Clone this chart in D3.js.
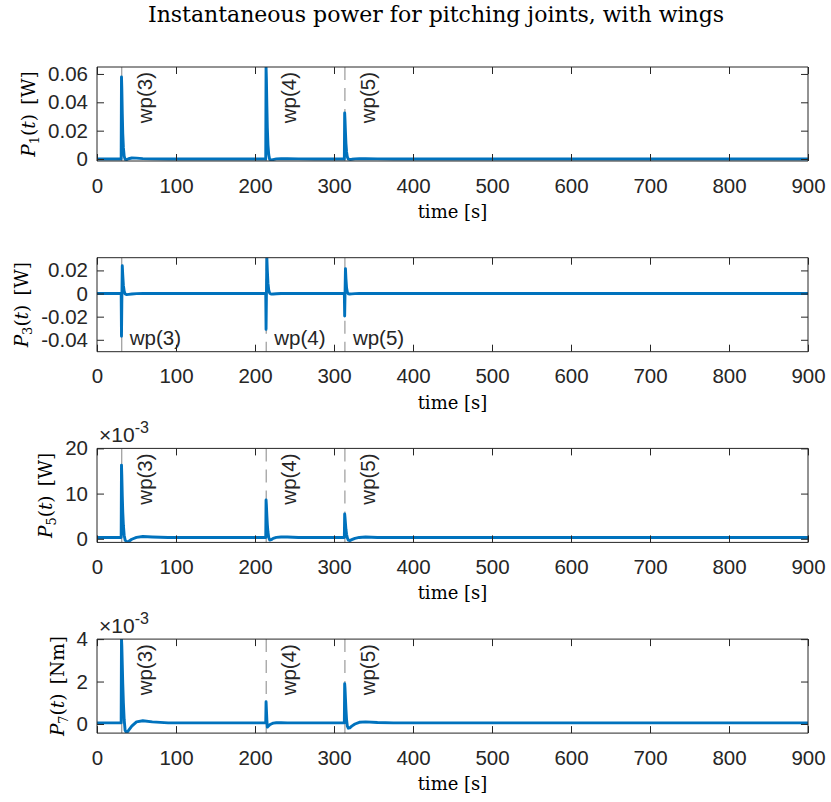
<!DOCTYPE html>
<html>
<head>
<meta charset="utf-8">
<script src="https://cdn.jsdelivr.net/npm/d3@7"></script>
<style>
  body { margin: 0; background: #fff; }
  svg { display: block; }
</style>
</head>
<body>
<svg id="fig" width="831" height="802"></svg>
<script>
// Sample times [s] shared by all four power traces
const timeS = [0, 30.6, 31.0, 31.4, 32.0, 32.6, 33.4, 34.4, 35.6, 37.5, 40, 44, 50, 58, 70, 90, 120,
  213.6, 214.0, 214.4, 215.0, 215.6, 216.4, 217.4, 218.6, 220.5, 223, 227, 233, 241, 255, 275,
  313.1, 313.5, 313.9, 314.5, 315.1, 315.9, 316.9, 318.1, 320, 322.5, 326.5, 332, 340, 355, 375, 900];

// Instantaneous power of joint 1 [W]
const powerP1 = [0, 0, 0.0578, 0.050, 0.032, 0.018, 0.008, 0.002, -0.0002, -0.0004, 0.0002, 0.0007, 0.0006, 0.0003, 0.0001, 0, 0,
  0, 0.0648, 0.057, 0.038, 0.022, 0.010, 0.003, -0.0003, -0.0007, -0.0004, 0.0001, 0.0003, 0.0002, 0.0001, 0,
  0, 0.0325, 0.028, 0.019, 0.011, 0.005, 0.0015, -0.0001, -0.0003, -0.0002, 0.0001, 0.0003, 0.0002, 0.0001, 0, 0];

// Instantaneous power of joint 3 [W]
const powerP3 = [0, 0, -0.037, -0.010, 0.024, 0.016, 0.007, 0.002, -0.0004, -0.0009, -0.0007, -0.0004, -0.0001, 0, 0, 0, 0,
  0, -0.031, -0.005, 0.031, 0.020, 0.009, 0.003, 0.0003, -0.0005, -0.0004, -0.0002, 0, 0, 0, 0,
  0, -0.0195, -0.003, 0.0215, 0.013, 0.005, 0.0012, -0.0002, -0.0004, -0.0003, -0.0001, 0, 0, 0, 0, 0];

// Instantaneous power of joint 5 [W]
const powerP5 = [0.0003, 0.0003, 0.0163, 0.0140, 0.0095, 0.0060, 0.0030, 0.0008, -0.0003, -0.0007, -0.0006, -0.0001, 0.0003, 0.0005, 0.0004, 0.0003, 0.0003,
  0.0003, 0.0086, 0.0075, 0.0052, 0.0032, 0.0015, 0.0003, -0.0003, -0.0002, 0.0001, 0.0003, 0.0004, 0.0004, 0.0003, 0.0003,
  0.0003, 0.0055, 0.0048, 0.0034, 0.0021, 0.0010, 0.0002, -0.0003, -0.0004, -0.0002, 0.0001, 0.0003, 0.0004, 0.0003, 0.0003, 0.0003];

// Instantaneous power of joint 7 [Nm]
const powerP7 = [0.00005, 0.00005, 0.0040, 0.0037, 0.0028, 0.0019, 0.0010, 0.0002, -0.0003, -0.00042, -0.0003, -0.0001, 0.0001, 0.00015, 0.0001, 0.00005, 0.00005,
  0.00005, 0.00105, 0.0007, 0.0002, -0.00015, -0.00012, -0.00008, -0.00004, 0, 0.00004, 0.00006, 0.00006, 0.00005, 0.00005, 0.00005,
  0.00005, 0.0019, 0.0017, 0.0012, 0.0007, 0.0002, -0.0001, -0.0002, -0.00018, -0.0001, 0, 0.00008, 0.0001, 0.00007, 0.00005, 0.00005];

// Waypoint markers
const waypointTimes = [31.3, 214.2, 313.8];
const waypointNames = ["wp(3)", "wp(4)", "wp(5)"];

// Axis ticks
const xTickValues = [0, 100, 200, 300, 400, 500, 600, 700, 800, 900];
const yTicksP1 = [0, 0.02, 0.04, 0.06];
const yTickTextP1 = ["0", "0.02", "0.04", "0.06"];
const yTicksP3 = [-0.04, -0.02, 0, 0.02];
const yTickTextP3 = ["-0.04", "-0.02", "0", "0.02"];
const yTicksP5 = [0, 0.010, 0.020];
const yTickTextP5 = ["0", "10", "20"];
const yTicksP7 = [0, 0.002, 0.004];
const yTickTextP7 = ["0", "2", "4"];

// Axis limits
const yLimP1 = [-0.0014, 0.0649];
const yLimP3 = [-0.0503, 0.031];
const yLimP5 = [-0.0008, 0.020];
const yLimP7 = [-0.00043, 0.0040];
const xLim = [0, 900];

const panels = [
  { values: powerP1, lim: yLimP1, ticks: yTicksP1, tickText: yTickTextP1, index: "1", unit: "[W]", exponent: false, labelsFlat: false },
  { values: powerP3, lim: yLimP3, ticks: yTicksP3, tickText: yTickTextP3, index: "3", unit: "[W]", exponent: false, labelsFlat: true },
  { values: powerP5, lim: yLimP5, ticks: yTicksP5, tickText: yTickTextP5, index: "5", unit: "[W]", exponent: true, labelsFlat: false },
  { values: powerP7, lim: yLimP7, ticks: yTicksP7, tickText: yTickTextP7, index: "7", unit: "[Nm]", exponent: true, labelsFlat: false }
];

const ink = "#262626";
const lineBlue = "#0072BD";
const sansFont = "'Liberation Sans', Arial, Helvetica, sans-serif";
const serifFont = "'DejaVu Serif', serif";

const svg = d3.select("#fig");
const left = 97, right = 808;
const panelTop0 = 67, panelStep = 190.7, panelH = 94;
const tickLen = 7;

const x = d3.scaleLinear().domain(xLim).range([left, right]);

svg.append("text")
  .attr("x", 436).attr("y", 22)
  .attr("text-anchor", "middle")
  .attr("font-family", serifFont)
  .attr("font-size", 22)
  .attr("fill", "#000")
  .text("Instantaneous power for pitching joints, with wings");

const defs = svg.append("defs");

panels.forEach((p, i) => {
  const top = panelTop0 + i * panelStep;
  const bottom = top + panelH;
  const y = d3.scaleLinear().domain(p.lim).range([bottom, top]);
  const g = svg.append("g");

  defs.append("clipPath").attr("id", "clip" + i)
    .append("rect").attr("x", left).attr("y", top).attr("width", right - left).attr("height", panelH);

  // waypoint lines
  const wpG = g.append("g").attr("clip-path", `url(#clip${i})`);
  waypointTimes.forEach((t, k) => {
    wpG.append("line")
      .attr("x1", x(t)).attr("x2", x(t))
      .attr("y1", top).attr("y2", bottom)
      .attr("stroke", "#9a9a9a")
      .attr("stroke-width", 1.2)
      .attr("stroke-dasharray", k === 0 ? null : "13,8");
  });

  // power trace
  const pts = timeS.map((t, k) => [t, p.values[k]]);
  g.append("path")
    .datum(pts)
    .attr("clip-path", `url(#clip${i})`)
    .attr("fill", "none")
    .attr("stroke", lineBlue)
    .attr("stroke-width", 2.9)
    .attr("stroke-linejoin", "round")
    .attr("d", d3.line().x(d => x(d[0])).y(d => y(d[1])));

  // waypoint labels
  waypointTimes.forEach((t, k) => {
    if (p.labelsFlat) {
      g.append("text")
        .attr("x", x(t) + 8).attr("y", bottom - 7)
        .attr("font-family", sansFont).attr("font-size", 20.5).attr("fill", ink)
        .text(waypointNames[k]);
    } else {
      g.append("text")
        .attr("transform", `translate(${x(t) + 30},${top + 5}) rotate(-90)`)
        .attr("text-anchor", "end")
        .attr("font-family", sansFont).attr("font-size", 20.5).attr("fill", ink)
        .text(waypointNames[k]);
    }
  });

  // axes: ticks point inward on all four sides
  const xAxisB = d3.axisBottom(x).tickValues(xTickValues).tickSize(-tickLen).tickPadding(17).tickFormat(d3.format("d"));
  const xAxisT = d3.axisTop(x).tickValues(xTickValues).tickSize(-tickLen).tickFormat("");
  const yAxisL = d3.axisLeft(y).tickValues(p.ticks).tickSize(-tickLen).tickPadding(9).tickFormat((d, k) => p.tickText[k]);
  const yAxisR = d3.axisRight(y).tickValues(p.ticks).tickSize(-tickLen).tickFormat("");

  const gb = g.append("g").attr("transform", `translate(0,${bottom})`).call(xAxisB);
  const gt = g.append("g").attr("transform", `translate(0,${top})`).call(xAxisT);
  const gl = g.append("g").attr("transform", `translate(${left},0)`).call(yAxisL);
  const gr = g.append("g").attr("transform", `translate(${right},0)`).call(yAxisR);
  [gb, gt, gl, gr].forEach(a => {
    a.selectAll(".domain").attr("stroke", ink).attr("stroke-width", 1);
    a.selectAll(".tick line").attr("stroke", ink).attr("stroke-width", 1);
    a.selectAll(".tick text").attr("fill", ink).attr("font-family", sansFont).attr("font-size", 20.5);
  });
  gb.selectAll(".domain").attr("d", `M${left},0H${right}`);
  gt.selectAll(".domain").attr("d", `M${left},0H${right}`);
  gl.selectAll(".domain").attr("d", `M0,${top}V${bottom}`);
  gr.selectAll(".domain").attr("d", `M0,${top}V${bottom}`);

  // x label
  g.append("text")
    .attr("x", (left + right) / 2).attr("y", bottom + 57)
    .attr("text-anchor", "middle")
    .attr("font-family", serifFont).attr("font-size", 18).attr("fill", "#000")
    .text("time [s]");

  // y label placed just beyond the widest tick label
  let minX = left;
  gl.selectAll(".tick text").each(function () {
    const b = this.getBBox();
    minX = Math.min(minX, left + b.x);
  });
  const ly = (top + bottom) / 2;
  const yl = g.append("text")
    .attr("transform", `translate(${minX - 13},${ly}) rotate(-90)`)
    .attr("text-anchor", "middle")
    .attr("font-family", serifFont).attr("font-size", 18.5).attr("fill", "#000");
  yl.append("tspan").attr("font-style", "italic").text("P");
  yl.append("tspan").attr("font-size", 13).attr("dy", 4).text(p.index);
  yl.append("tspan").attr("dy", -4).text("(");
  yl.append("tspan").attr("font-style", "italic").text("t");
  yl.append("tspan").text(")\u2002" + p.unit);

  // exponent annotation
  if (p.exponent) {
    const ex = g.append("text")
      .attr("x", left + 2).attr("y", top - 6)
      .attr("font-family", sansFont).attr("font-size", 21).attr("fill", ink);
    ex.append("tspan").text("\u00d710");
    ex.append("tspan").attr("font-size", 16).attr("dy", -9).text("-3");
  }
});
</script>
</body>
</html>
